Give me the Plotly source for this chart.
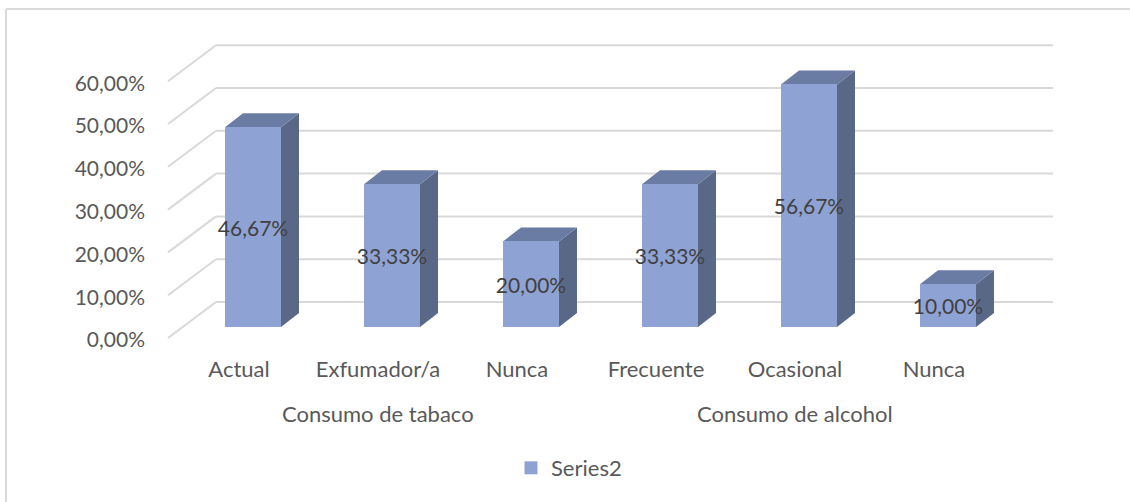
import plotly.graph_objects as go

# --- data -------------------------------------------------------------
categories = ["Actual", "Exfumador/a", "Nunca", "Frecuente", "Ocasional", "Nunca"]
groups = ["Consumo de tabaco", "Consumo de alcohol"]
group_members = [[0, 1, 2], [3, 4, 5]]
values = [0.4667, 0.3333, 0.2000, 0.3333, 0.5667, 0.1000]
series_name = "Series2"
y_ticks = [0.0, 0.1, 0.2, 0.3, 0.4, 0.5, 0.6]

# --- layout geometry (pixels) -----------------------------------------
W, H = 1130, 502
PL, PR, PT, PB = 160, 1060, 30, 345          # plot area
X0_PX = 253                                   # centre of first bar front
STEP_PX = 139                                 # category spacing
KY = 428                                      # pixels per 1.0 (100 %)
BAR_BASE_PX = 327                             # bottom of bar fronts
FLOOR_FRONT_PX = 338                          # front edge of floor
LABEL_ZERO_PX = 340                           # vertical centre of the 0 % label
WALL_BASE_PX = 302                            # bottom of back wall
DEPTH_DX, DEPTH_DY = 18, 14                   # bar depth offset
WALL_LEFT_PX, WALL_RIGHT_PX = 216, 1053
FRONT_LEFT_PX = 168
BAR_W_PX = 56

def px_to_x(px):
    return (px - X0_PX) / STEP_PX

def dx(px):
    return px / STEP_PX

def dy(px):
    return px / KY

def paper_x(px):
    return (px - PL) / (PR - PL)

def paper_y(px):
    return (PB - px) / (PB - PT)

x_range = [px_to_x(PL), px_to_x(PR)]
y_range = [-(PB - BAR_BASE_PX) / KY, (BAR_BASE_PX - PT) / KY]
y2_range = [-(PB - LABEL_ZERO_PX) / KY, (LABEL_ZERO_PX - PT) / KY]

FRONT = "#8FA2D4"
TOP = "#6A7BA4"
SIDE = "#5A6888"
GRID = "#D9D9D9"
TEXT = "#595959"
FONT = "Lato"
NUM_SIZE = 21
WORD_SIZE = 22

xs = list(range(len(categories)))
bw = dx(BAR_W_PX)
ddx, ddy = dx(DEPTH_DX), dy(DEPTH_DY)

shapes = []

# gridlines: back wall + receding floor-to-wall diagonals
wall_off = dy(BAR_BASE_PX - WALL_BASE_PX)
front_off = dy(FLOOR_FRONT_PX - BAR_BASE_PX)
for v in y_ticks:
    yb = v + wall_off
    yf = v - front_off
    shapes.append(dict(type="line", xref="x", yref="y", layer="below",
                       x0=px_to_x(WALL_LEFT_PX), x1=px_to_x(WALL_RIGHT_PX), y0=yb, y1=yb,
                       line=dict(color=GRID, width=2)))
    shapes.append(dict(type="line", xref="x", yref="y", layer="below",
                       x0=px_to_x(FRONT_LEFT_PX), x1=px_to_x(WALL_LEFT_PX), y0=yf, y1=yb,
                       line=dict(color=GRID, width=2)))

# 3-D side and top faces of each column
for x, v in zip(xs, values):
    xl, xr = x - bw / 2, x + bw / 2
    side = (f"M{xr},0 L{xr + ddx},{ddy} L{xr + ddx},{v + ddy} L{xr},{v} Z")
    top = (f"M{xl},{v} L{xr},{v} L{xr + ddx},{v + ddy} L{xl + ddx},{v + ddy} Z")
    shapes.append(dict(type="path", path=side, xref="x", yref="y", layer="below",
                       fillcolor=SIDE, line=dict(width=0)))
    shapes.append(dict(type="path", path=top, xref="x", yref="y", layer="below",
                       fillcolor=TOP, line=dict(width=0)))

# chart frame (left and top edges)
shapes.append(dict(type="line", xref="paper", yref="paper", layer="below",
                   x0=paper_x(6), x1=paper_x(6), y0=paper_y(9), y1=paper_y(520),
                   line=dict(color=GRID, width=2)))
shapes.append(dict(type="line", xref="paper", yref="paper", layer="below",
                   x0=paper_x(6), x1=paper_x(1150), y0=paper_y(9), y1=paper_y(9),
                   line=dict(color=GRID, width=2)))

fig = go.Figure()
fig.add_trace(go.Bar(
    x=xs, y=values, width=bw, name=series_name, showlegend=False,
    marker=dict(color=FRONT, line=dict(width=0)),
    text=[f"{v * 100:.2f}%".replace(".", ",") for v in values],
    textposition="inside", insidetextanchor="middle", textangle=0,
    constraintext="none",
    textfont=dict(family=FONT, size=NUM_SIZE, color="#404040"),
    hoverinfo="skip",
))
# legend entry with a square swatch
fig.add_trace(go.Scatter(x=[None], y=[None], mode="markers", name=series_name,
                         marker=dict(symbol="square", size=13, color=FRONT),
                         hoverinfo="skip"))
# carrier for the percentage axis
fig.add_trace(go.Scatter(x=[None], y=[None], yaxis="y2", showlegend=False,
                         hoverinfo="skip"))

label_shift = dx(-14)
annotations = []
for g, members in zip(groups, group_members):
    cx = sum(members) / len(members) + label_shift
    annotations.append(dict(x=cx, xref="x", y=paper_y(413), yref="paper",
                            text=g, showarrow=False, yanchor="middle",
                            font=dict(family=FONT, size=WORD_SIZE, color=TEXT)))

fig.update_layout(
    width=W, height=H,
    margin=dict(l=PL, r=W - PR, t=PT, b=H - PB, pad=0),
    paper_bgcolor="white", plot_bgcolor="rgba(0,0,0,0)",
    separators=",.",
    font=dict(family=FONT, size=NUM_SIZE, color=TEXT),
    xaxis=dict(range=x_range, tickvals=[x + label_shift for x in xs], ticktext=categories,
               showgrid=False, zeroline=False, showline=False, ticks="",
               ticklabelstandoff=9, tickfont=dict(family=FONT, size=WORD_SIZE, color=TEXT)),
    yaxis=dict(range=y_range, showgrid=False, zeroline=False, showline=False,
               showticklabels=False, ticks=""),
    yaxis2=dict(range=y2_range, overlaying="y", side="left", tickvals=y_ticks,
                tickformat=".2%", showgrid=False, zeroline=False, showline=False,
                ticks="", ticklabelstandoff=14,
                tickfont=dict(family=FONT, size=NUM_SIZE, color=TEXT)),
    shapes=shapes,
    annotations=annotations,
    showlegend=True,
    legend=dict(orientation="h", x=paper_x(511), xanchor="left",
                y=paper_y(468), yanchor="middle",
                font=dict(family=FONT, size=WORD_SIZE, color=TEXT), itemwidth=30,
                bgcolor="rgba(0,0,0,0)"),
    bargap=0,
)

fig.write_html("out.html")
